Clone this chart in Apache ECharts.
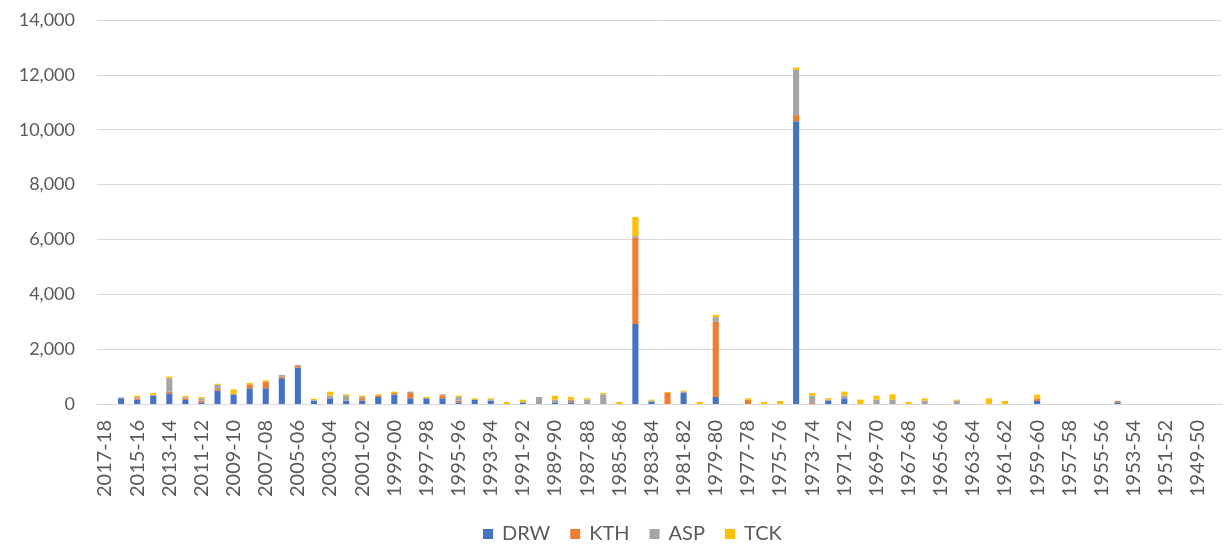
<!DOCTYPE html>
<html>
<head>
<meta charset="utf-8">
<script src="https://cdn.jsdelivr.net/npm/echarts@6/dist/echarts.min.js"></script>
<style>
  html, body { margin: 0; padding: 0; background: #ffffff; }
  #chart { width: 1224px; height: 551px; }
</style>
</head>
<body>
<div id="chart"></div>
<script>
// Seasons, newest first
const seasons = [
  '2017-18','2016-17','2015-16','2014-15','2013-14','2012-13','2011-12','2010-11','2009-10','2008-09',
  '2007-08','2006-07','2005-06','2004-05','2003-04','2002-03','2001-02','2000-01','1999-00','1998-99',
  '1997-98','1996-97','1995-96','1994-95','1993-94','1992-93','1991-92','1990-91','1989-90','1988-89',
  '1987-88','1986-87','1985-86','1984-85','1983-84','1982-83','1981-82','1980-81','1979-80','1978-79',
  '1977-78','1976-77','1975-76','1974-75','1973-74','1972-73','1971-72','1970-71','1969-70','1968-69',
  '1967-68','1966-67','1965-66','1964-65','1963-64','1962-63','1961-62','1960-61','1959-60','1958-59',
  '1957-58','1956-57','1955-56','1954-55','1953-54','1952-53','1951-52','1950-51','1949-50','1948-49'
];

const DRW = [
  0, 210, 150, 310, 390, 146, 60, 490, 354, 573,
  573, 940, 1330, 122, 207, 122, 122, 256, 342, 207,
  207, 207, 60, 159, 122, 0, 60, 0, 60, 60,
  0, 0, 0, 2917, 85, 0, 403, 0, 256, 0,
  0, 0, 0, 10313, 0, 110, 207, 0, 0, 0,
  0, 0, 0, 0, 0, 0, 0, 0, 110, 0,
  0, 0, 0, 60, 0, 0, 0, 0, 0, 0
];
const KTH = [
  0, 0, 50, 10, 60, 40, 60, 60, 0, 146,
  244, 60, 60, 0, 0, 0, 85, 60, 60, 195,
  0, 110, 60, 0, 0, 0, 0, 0, 0, 50,
  0, 0, 0, 3147, 0, 403, 0, 0, 2740, 0,
  159, 0, 0, 220, 50, 0, 0, 0, 0, 0,
  0, 0, 0, 0, 0, 0, 0, 0, 85, 0,
  0, 0, 0, 50, 0, 0, 0, 0, 0, 0
];
const ASP = [
  0, 30, 50, 20, 490, 60, 85, 146, 0, 0,
  0, 60, 37, 20, 98, 183, 50, 0, 0, 50,
  0, 37, 134, 0, 50, 0, 0, 256, 98, 50,
  159, 354, 0, 60, 37, 0, 50, 0, 170, 0,
  0, 0, 0, 1646, 256, 50, 98, 0, 159, 159,
  0, 122, 0, 122, 0, 0, 0, 0, 0, 0,
  0, 0, 0, 0, 0, 0, 0, 0, 0, 0
];
const TCK = [
  0, 0, 50, 60, 60, 50, 50, 40, 183, 50,
  50, 0, 0, 50, 146, 50, 50, 37, 50, 0,
  50, 0, 50, 50, 37, 73, 98, 0, 146, 98,
  50, 50, 73, 695, 37, 37, 37, 73, 85, 0,
  50, 73, 110, 88, 98, 50, 146, 159, 146, 195,
  73, 85, 0, 37, 0, 207, 110, 0, 146, 0,
  0, 0, 0, 0, 0, 0, 0, 0, 0, 0
];

const seriesNames = ['DRW', 'KTH', 'ASP', 'TCK'];
const seriesData = [DRW, KTH, ASP, TCK];
const seriesColors = ['#4472C4', '#ED7D31', '#A5A5A5', '#FFC000'];

const yTicks = { min: 0, max: 14000, interval: 2000 };

const textColor = '#595959';
const fontFamily = 'Lato, "Open Sans", sans-serif';

const chart = echarts.init(document.getElementById('chart'), null, { renderer: 'canvas' });

chart.setOption({
  animation: false,
  backgroundColor: '#ffffff',
  grid: { left: 97, right: 2, top: 20, bottom: 147, containLabel: false },
  legend: {
    data: seriesNames,
    bottom: 2,
    left: 478,
    icon: 'rect',
    itemWidth: 10,
    itemHeight: 10,
    itemGap: 20,
    textStyle: { color: textColor, fontSize: 20, fontFamily: fontFamily, padding: [0, 0, 0, 4] }
  },
  xAxis: {
    type: 'category',
    data: seasons,
    axisLine: { show: true, lineStyle: { color: '#D9D9D9', width: 1 } },
    axisTick: { show: false },
    axisLabel: {
      interval: 1,
      rotate: 90,
      margin: 16,
      color: textColor,
      fontSize: 20,
      fontFamily: fontFamily
    }
  },
  yAxis: {
    type: 'value',
    min: yTicks.min,
    max: yTicks.max,
    interval: yTicks.interval,
    axisLine: { show: false },
    axisTick: { show: false },
    splitLine: { lineStyle: { color: '#D9D9D9', width: 1 } },
    axisLabel: {
      margin: 22,
      color: textColor,
      fontSize: 18,
      fontFamily: fontFamily,
      formatter: v => v.toLocaleString('en-US')
    }
  },
  series: seriesNames.map((name, k) => ({
    name: name,
    type: 'bar',
    stack: 'total',
    barWidth: '38%',
    itemStyle: { color: seriesColors[k] },
    data: seriesData[k]
  }))
});
</script>
</body>
</html>
